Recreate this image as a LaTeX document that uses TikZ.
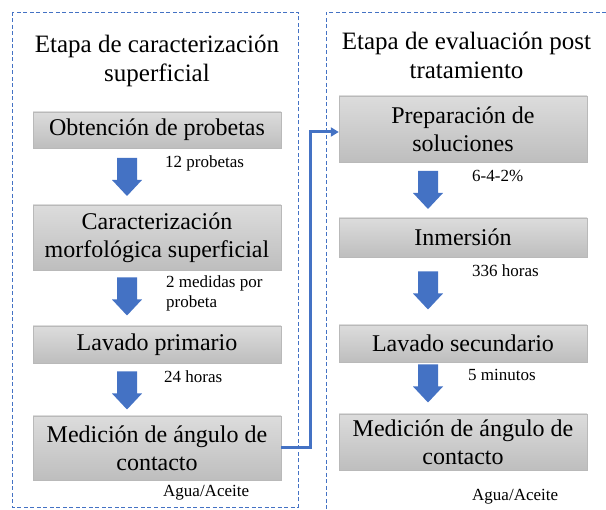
\documentclass[tikz,border=0pt]{standalone}
\usepackage{fontspec}
\setmainfont{Liberation Serif}
\usetikzlibrary{arrows.meta}
\definecolor{officeblue}{HTML}{4472C4}
\definecolor{boxtop}{HTML}{DCDCDC}
\definecolor{boxbot}{HTML}{BEBEBE}

\begin{document}
\begin{tikzpicture}[x=1pt,y=-1pt,
	etapa/.style={draw=officeblue, dash pattern=on 4pt off 2.5pt, line width=0.8pt},
	paso/.style={top color=boxtop, bottom color=boxbot, draw=gray!55, line width=0.4pt, minimum width=248pt, inner sep=2pt, align=center, font=\fontsize{24}{27.6}\selectfont},
	flecha/.pic={\fill[officeblue] (-10,-19) -- (10,-19) -- (10,3) -- (15,3) -- (0,19) -- (-15,3) -- (-10,3) -- cycle;},
	nota/.style={anchor=west, align=left, inner sep=0pt, font=\fontsize{17}{20}\selectfont},
	titulo/.style={align=center, font=\fontsize{25}{29}\selectfont},
	enlace/.style={draw=officeblue, line width=3pt, -{Triangle[length=8pt,width=9pt]}}]

	\useasboundingbox (0,0) rectangle (606,510);

	% Etapa de caracterizacion
	\draw[etapa] (12,12) rectangle (298,507);
	\node[titulo] (tituloA) at (157,61) {Etapa de caracterización\\superficial};

	\node[paso, minimum height=36pt] (obtencion) at (157,130) {Obtención de probetas};
	\pic at (127,177) {flecha};
	\node[nota] (n1) at (165,163) {12 probetas};

	\node[paso, minimum height=65pt] (caract) at (157,237.5) {Caracterización\\morfológica superficial};
	\pic at (127,296.5) {flecha};
	\node[nota] (n2) at (166,293) {2 medidas por\\probeta};

	\node[paso, minimum height=37pt] (lavado) at (157,344.5) {Lavado primario};
	\pic at (127,390.5) {flecha};
	\node[nota] (n3) at (164,377) {24 horas};

	\node[paso, minimum height=64pt] (medicion) at (157,448) {Medición de ángulo de\\contacto};
	\node[nota] (n4) at (163,493) {Agua/Aceite};

	% Etapa de evaluacion
	\draw[etapa] (606,12) -- (326,12) -- (326,510);
	\node[titulo] (tituloB) at (466.5,55) {Etapa de evaluación post\\tratamiento};

	\node[paso, minimum height=66pt] (preparacion) at (463,129) {Preparación de\\soluciones};
	\pic at (428,190) {flecha};
	\node[nota] (n5) at (472,176) {6-4-2\%};

	\node[paso, minimum height=39pt] (inmersion) at (463,237.5) {Inmersión};
	\pic at (428,290.5) {flecha};
	\node[nota] (n6) at (472,271) {336 horas};

	\node[paso, minimum height=37pt] (lavadoB) at (463,343.5) {Lavado secundario};
	\pic at (428,383.5) {flecha};
	\node[nota] (n7) at (468,375) {5 minutos};

	\node[paso, minimum height=56pt] (medicionB) at (463,442) {Medición de ángulo de\\contacto};
	\node[nota] (n8) at (472,497) {Agua/Aceite};

	% Enlace entre etapas
	\draw[enlace] (medicion.east) -- ++(29,0) |- ([yshift=-3pt]preparacion.west);

\end{tikzpicture}
\end{document}
